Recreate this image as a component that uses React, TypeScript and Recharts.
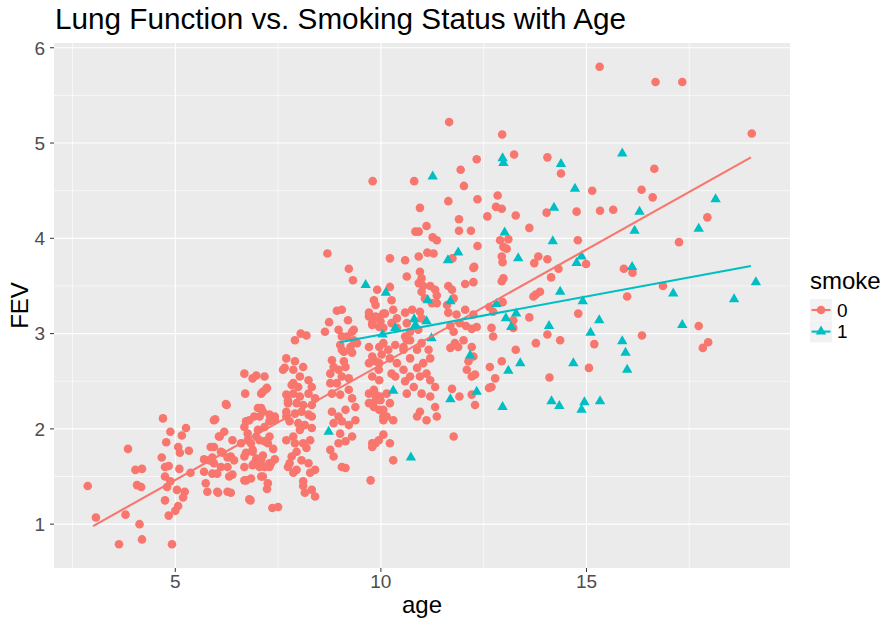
import { ScatterChart, Scatter, XAxis, YAxis, CartesianGrid } from "recharts";

// FEV data: [age (jittered), FEV]
const nonSmokerPoints: [number, number][] = [
  [2.87, 1.4], [3.07, 1.07], [3.63, 0.79], [3.85, 1.79], [3.79, 1.1], [4.13, 1.0], [4.19, 0.84], [4.03, 1.57], [4.19, 1.58], [4.07, 1.41], [4.17, 1.39],
  [4.7, 2.11], [4.88, 1.97], [5.26, 2.01], [5.16, 1.93], [4.78, 1.86], [5.07, 1.81], [5.11, 1.75], [5.33, 1.77], [4.67, 1.7], [4.75, 1.6], [4.84, 1.61],
  [5.1, 1.58], [5.37, 1.54], [4.75, 1.5], [4.88, 1.45], [4.8, 1.39], [5.04, 1.36], [5.23, 1.34], [5.19, 1.28], [4.75, 1.25], [5.07, 1.19], [5.0, 1.14],
  [4.84, 1.09], [4.92, 0.79],
  [5.7, 1.68], [5.82, 1.67], [5.9, 1.7], [5.94, 1.81], [5.97, 2.1], [6.08, 1.92], [6.19, 1.97], [6.39, 1.88], [6.25, 2.25], [5.7, 1.55], [5.9, 1.53],
  [6.11, 1.6], [5.74, 1.43], [5.78, 1.34], [6.04, 1.33], [6.27, 1.34], [6.35, 1.33], [6.31, 1.5], [6.39, 1.52], [6.15, 1.75], [6.27, 1.7], [6.43, 1.67],
  [5.86, 1.81], [6.11, 1.76], [6.35, 1.71], [6.23, 2.26], [5.94, 2.09], [6.06, 1.92], [5.94, 1.64], [6.27, 1.6], [6.02, 1.53], [6.02, 1.34],
  [6.68, 2.02], [6.72, 2.08], [6.8, 2.09], [6.7, 2.37], [6.68, 2.58], [6.97, 2.56], [7.17, 2.55], [6.88, 2.53], [7.13, 2.39], [7.23, 2.43], [7.01, 2.22],
  [7.13, 2.18], [7.05, 2.13], [7.42, 2.13], [7.29, 2.08], [6.76, 1.88], [6.97, 1.92], [7.29, 1.92], [7.17, 1.87], [6.72, 1.75], [6.88, 1.78], [6.97, 1.69],
  [7.13, 1.72], [7.38, 1.79], [7.42, 1.68], [6.68, 1.6], [6.88, 1.62], [7.05, 1.6], [7.29, 1.6], [6.72, 1.46], [6.84, 1.48], [7.13, 1.5], [7.23, 1.37],
  [6.83, 1.25], [7.36, 1.17], [6.68, 1.71], [6.88, 1.76], [7.09, 1.67], [7.29, 1.64], [6.92, 2.13], [7.09, 2.22], [7.29, 2.15], [7.42, 2.09], [7.17, 2.02],
  [7.01, 1.99], [6.76, 1.95], [6.6, 1.85], [6.84, 1.85], [7.05, 1.88], [7.25, 1.85], [7.09, 2.37], [7.21, 2.42], [6.92, 1.64], [7.17, 1.6], [7.33, 1.64],
  [6.68, 1.46], [7.09, 1.5], [7.25, 1.43], [6.8, 1.26], [7.5, 1.18],
  [7.74, 2.3], [7.87, 2.48], [7.7, 2.13], [7.87, 1.92], [7.78, 1.64], [7.87, 1.54], [7.62, 2.62],
  [7.7, 2.74], [7.91, 2.71], [8.11, 2.65], [7.66, 2.64], [7.87, 2.62], [8.03, 2.55], [8.24, 2.51], [8.32, 2.44], [7.83, 2.46], [7.99, 2.44], [7.7, 2.36],
  [7.87, 2.37], [8.03, 2.34], [8.24, 2.37], [8.4, 2.32], [7.74, 2.27], [7.95, 2.27], [8.11, 2.25], [8.32, 2.25], [7.7, 2.18], [7.91, 2.16], [8.07, 2.18],
  [8.24, 2.15], [8.32, 2.13], [7.78, 2.08], [7.99, 2.06], [8.15, 2.04], [8.32, 2.01], [8.03, 1.99], [7.7, 1.88], [7.91, 1.85], [8.11, 1.85], [8.28, 1.88],
  [8.19, 1.8], [7.95, 1.76], [7.83, 1.71], [8.07, 1.67], [8.24, 1.64], [7.74, 1.6], [7.95, 1.57], [8.4, 1.57], [8.28, 1.54], [8.11, 1.45], [8.32, 1.36],
  [8.4, 1.29], [8.15, 1.33], [8.11, 1.4], [8.05, 3.0], [8.19, 2.98], [7.91, 2.93],
  [8.7, 3.84], [9.22, 3.68], [9.32, 3.56], [9.91, 3.46], [9.83, 3.35], [9.87, 3.3], [8.93, 3.24], [8.74, 3.12], [8.64, 3.02], [9.2, 3.14], [8.97, 3.04],
  [9.05, 2.97], [9.3, 3.02], [9.34, 2.93], [9.71, 3.18], [9.79, 3.09], [9.96, 3.07], [9.01, 2.88], [9.1, 2.81], [9.3, 2.8], [9.71, 2.86], [9.96, 2.86],
  [8.81, 2.72], [8.85, 2.65], [8.77, 2.58], [8.97, 2.62], [9.1, 2.71], [9.14, 2.65], [9.05, 2.55], [9.22, 2.53], [8.93, 2.48], [8.77, 2.48], [8.81, 2.37],
  [9.01, 2.36], [9.22, 2.41], [9.3, 2.32], [9.38, 2.23], [9.14, 2.2], [8.97, 2.13], [8.81, 2.18], [8.85, 2.06], [9.05, 2.08], [9.22, 2.04], [9.38, 2.09],
  [9.3, 1.92], [9.01, 1.95], [9.14, 1.87], [8.97, 1.85], [8.85, 1.71], [8.77, 1.78], [9.05, 1.6], [9.14, 1.59], [9.75, 1.46],
  [9.71, 2.69], [9.87, 2.71], [9.79, 2.55], [9.96, 2.51], [9.71, 2.37], [9.87, 2.3], [9.83, 2.23], [9.79, 1.85],
  [9.71, 3.22], [9.87, 3.18], [9.79, 3.11], [9.05, 3.25], [9.34, 3.04], [9.18, 2.97], [9.05, 2.83], [9.26, 2.86], [9.42, 2.9], [9.79, 2.76], [9.96, 2.69],
  [9.96, 2.2], [9.83, 2.41], [9.71, 2.27], [9.87, 2.36], [9.87, 1.85], [9.79, 1.81], [9.8, 4.6],
  [10.22, 3.79], [10.59, 3.77], [10.63, 3.6], [10.22, 3.49], [10.26, 3.35], [9.95, 3.17], [10.1, 3.21], [10.06, 3.06], [10.26, 3.11], [10.39, 3.06],
  [10.06, 2.9], [10.35, 2.88], [10.55, 2.86], [10.63, 2.93], [9.95, 2.62], [9.98, 2.34], [10.14, 2.37], [10.06, 2.2], [10.26, 2.58], [10.35, 2.55],
  [10.55, 2.62], [10.59, 2.5], [10.06, 2.13], [10.3, 2.09], [10.22, 2.27], [9.95, 1.88], [10.06, 1.94], [10.22, 1.85], [10.3, 1.67],
  [9.99, 3.13], [10.06, 3.21], [10.3, 3.25], [10.39, 3.16], [10.59, 3.22], [10.76, 3.25], [10.95, 3.23], [10.99, 3.16], [10.63, 3.11], [10.71, 3.02],
  [10.91, 3.04], [10.02, 2.78], [10.18, 2.83], [10.22, 2.74], [10.39, 2.69], [10.59, 2.97], [10.71, 2.93], [10.55, 2.83], [10.71, 2.74], [10.88, 2.83],
  [10.99, 2.9], [11.16, 2.83], [11.2, 2.74], [11.03, 2.69], [10.88, 2.64], [11.11, 2.58], [11.2, 2.51], [10.95, 2.55], [10.71, 2.55], [10.8, 2.44],
  [10.63, 2.37], [10.99, 2.37], [11.2, 2.34], [11.32, 2.44], [11.32, 2.23], [11.36, 2.13], [11.11, 2.09], [10.88, 2.13], [10.95, 2.18], [9.99, 2.3],
  [10.14, 2.13], [10.06, 2.09],
  [10.81, 4.6], [10.95, 4.32], [11.11, 4.13], [10.84, 4.07], [10.92, 4.07], [11.26, 4.01], [11.36, 3.98], [11.13, 3.85], [11.28, 3.84], [10.92, 3.81],
  [10.95, 3.65], [10.99, 3.58], [10.92, 3.53], [11.03, 3.5], [11.2, 3.5], [10.99, 3.44], [11.32, 3.46], [11.36, 3.4], [11.24, 3.32], [11.07, 3.37],
  [11.36, 3.32],
  [11.66, 5.22], [11.94, 4.72], [11.64, 4.39], [11.9, 4.2], [11.9, 4.08], [11.74, 3.79], [11.64, 3.5], [11.73, 3.46], [11.77, 3.37], [11.61, 3.3],
  [11.64, 3.22], [11.84, 3.2], [11.69, 3.08], [11.77, 3.02], [11.92, 3.11], [11.8, 2.9], [11.69, 2.85], [11.88, 2.86], [11.91, 2.34], [11.73, 2.42],
  [11.77, 1.92],
  [12.33, 4.83], [12.02, 4.55], [12.35, 4.41], [12.59, 4.23], [12.19, 4.08], [12.35, 3.92], [12.25, 3.69], [12.05, 3.25], [12.25, 3.2], [12.07, 3.08],
  [12.21, 3.05], [12.33, 3.07], [12.05, 3.52], [12.25, 3.54], [12.27, 3.7], [12.64, 3.28], [12.73, 3.23], [12.69, 3.06], [12.73, 2.97], [12.01, 2.93],
  [12.21, 2.86], [12.25, 2.76], [12.13, 2.71], [12.09, 2.62], [12.21, 2.55], [12.29, 2.57], [12.65, 2.65], [12.78, 2.53], [12.69, 2.44], [12.63, 2.43],
  [12.21, 2.36], [12.29, 2.25],
  [12.95, 5.09], [13.24, 4.88], [12.84, 4.45], [12.8, 4.33], [12.94, 4.31], [13.28, 4.24], [13.61, 4.11], [12.9, 3.98], [13.1, 3.99], [12.98, 3.91],
  [13.06, 3.89], [12.94, 3.81], [12.96, 3.75], [12.98, 3.58], [12.94, 3.55], [13.73, 3.74], [12.96, 3.33], [13.22, 3.14], [13.61, 3.17], [13.77, 3.41],
  [13.71, 3.39], [13.87, 3.44], [13.22, 3.06], [13.28, 2.83], [13.77, 2.9], [13.83, 3.81], [12.94, 2.71],
  [15.32, 5.8], [16.68, 5.64], [17.33, 5.64], [19.02, 5.1], [14.05, 4.85], [14.38, 4.68], [16.65, 4.73], [15.14, 4.5], [16.34, 4.51], [16.61, 4.43],
  [14.03, 4.27], [14.76, 4.28], [15.33, 4.29], [15.65, 4.3], [17.94, 4.22], [14.79, 3.98], [17.25, 3.96], [14.05, 3.78], [14.99, 3.73], [15.91, 3.68],
  [16.12, 3.64], [14.32, 3.68], [14.14, 3.59], [16.86, 3.5], [15.99, 3.39], [14.8, 3.21], [14.05, 2.99], [14.36, 2.93], [15.19, 2.89], [16.35, 2.98],
  [17.73, 3.08], [17.96, 2.91], [17.83, 2.85], [14.1, 2.54], [15.06, 2.64],
];

const smokerPoints: [number, number][] = [
  [12.98, 4.79], [12.96, 4.84], [14.38, 4.78], [15.87, 4.89], [14.72, 4.52], [14.21, 4.32], [16.29, 4.28], [18.14, 4.41], [13.01, 4.06], [14.18, 3.97],
  [16.17, 4.08], [17.73, 4.1], [13.34, 3.79], [14.76, 3.74], [14.88, 3.81], [16.11, 3.7], [14.36, 3.44], [14.91, 3.34], [17.11, 3.42], [18.59, 3.36],
  [19.12, 3.54], [13.04, 3.16], [13.29, 3.21], [13.17, 3.07], [15.31, 3.14], [14.09, 3.08], [15.1, 3.01], [17.33, 3.09], [15.87, 2.92], [15.95, 2.8],
  [15.99, 2.62], [13.39, 2.69], [13.1, 2.61], [14.68, 2.69], [14.15, 2.29], [14.34, 2.24], [14.95, 2.28], [14.88, 2.2], [15.33, 2.29], [12.96, 2.23],
  [11.26, 4.65], [11.88, 3.85], [11.63, 3.77], [9.63, 3.51], [10.12, 3.43], [11.14, 3.35], [11.69, 3.34], [12.81, 3.31], [10.81, 3.15], [10.84, 3.09],
  [11.11, 3.13], [10.35, 3.06], [10.04, 2.99], [11.23, 2.95], [12.17, 2.77], [11.69, 2.31], [12.33, 2.39], [10.3, 2.4], [10.73, 1.7], [8.73, 1.97],
];

// end points of the linear fits (FEV ~ age) per smoking group
const nonSmokerFit: [number, number][] = [[3, 0.98], [19, 4.85]];
const smokerFit: [number, number][] = [[9, 2.91], [19, 3.71]];

const ageTicks = [5, 10, 15];
const ageMinor = [2.5, 7.5, 12.5, 17.5];
const fevTicks = [1, 2, 3, 4, 5, 6];
const fevMinor = [1.5, 2.5, 3.5, 4.5, 5.5];

const RED = "#F8766D";
const TEAL = "#00BFC4";
const FONT = '"Liberation Sans", Arial, Helvetica, sans-serif';

const toRows = (pts: [number, number][]) => pts.map(([age, fev]) => ({ age, fev }));

const Dot = (p: any) => <circle cx={p.cx} cy={p.cy} r={4.3} fill={RED} />;

const triPath = (cx: number, cy: number) => {
  const s = 10.4;
  const h = 9;
  return `${cx},${cy - (2 * h) / 3} ${cx - s / 2},${cy + h / 3} ${cx + s / 2},${cy + h / 3}`;
};

const Tri = (p: any) => <polygon points={triPath(p.cx, p.cy)} fill={TEAL} />;

const Nothing = () => <g />;

const App = () => (
  <div style={{ position: "absolute", left: 0, top: 0, width: 884, height: 620, background: "#fff", fontFamily: FONT }}>
    <ScatterChart width={884} height={620} margin={{ top: 43, right: 94, bottom: 0, left: 0 }}>
      <CartesianGrid
        fill="#EBEBEB"
        stroke="#FFFFFF"
        strokeWidth={0.6}
        horizontalValues={fevMinor}
        verticalValues={ageMinor}
      />
      <CartesianGrid stroke="#FFFFFF" strokeWidth={1.15} horizontalValues={fevTicks} verticalValues={ageTicks} />
      <XAxis
        type="number"
        dataKey="age"
        domain={[2.05, 19.95]}
        ticks={ageTicks}
        allowDataOverflow
        height={52}
        axisLine={false}
        tickSize={4}
        tickMargin={3}
        tickLine={{ stroke: "#333333" }}
        tick={{ fill: "#4D4D4D", fontSize: 19, fontFamily: FONT }}
      />
      <YAxis
        type="number"
        dataKey="fev"
        domain={[0.54, 6.05]}
        ticks={fevTicks}
        allowDataOverflow
        width={54}
        axisLine={false}
        tickSize={4}
        tickMargin={5}
        tickLine={{ stroke: "#333333" }}
        tick={{ fill: "#4D4D4D", fontSize: 19, fontFamily: FONT }}
      />
      <Scatter data={toRows(nonSmokerPoints)} shape={Dot} isAnimationActive={false} />
      <Scatter data={toRows(smokerPoints)} shape={Tri} isAnimationActive={false} />
      <Scatter
        data={toRows(nonSmokerFit)}
        line={{ stroke: RED, strokeWidth: 2.1 }}
        shape={Nothing}
        isAnimationActive={false}
      />
      <Scatter
        data={toRows(smokerFit)}
        line={{ stroke: TEAL, strokeWidth: 2.1 }}
        shape={Nothing}
        isAnimationActive={false}
      />
    </ScatterChart>
    <svg width={884} height={620} style={{ position: "absolute", left: 0, top: 0, pointerEvents: "none" }} fontFamily={FONT}>
      <text x={55} y={29} fontSize={29.7} fill="#000">
        Lung Function vs. Smoking Status with Age
      </text>
      <text x={422} y={613} fontSize={24} fill="#000" textAnchor="middle">
        age
      </text>
      <text transform="translate(28,305.5) rotate(-90)" fontSize={24} fill="#000" textAnchor="middle">
        FEV
      </text>
      <text x={810} y={289} fontSize={24} fill="#000">
        smoke
      </text>
      <rect x={810} y={299} width={22} height={21.7} fill="#F2F2F2" />
      <rect x={810} y={320.7} width={22} height={21.7} fill="#F2F2F2" />
      <line x1={811.5} x2={830.5} y1={310} y2={310} stroke={RED} strokeWidth={2.1} />
      <circle cx={821} cy={310} r={4.3} fill={RED} />
      <line x1={811.5} x2={830.5} y1={331.6} y2={331.6} stroke={TEAL} strokeWidth={2.1} />
      <polygon points={triPath(821, 331.6)} fill={TEAL} />
      <text x={837} y={316.5} fontSize={19} fill="#000">
        0
      </text>
      <text x={837} y={338.2} fontSize={19} fill="#000">
        1
      </text>
    </svg>
  </div>
);

export default App;
